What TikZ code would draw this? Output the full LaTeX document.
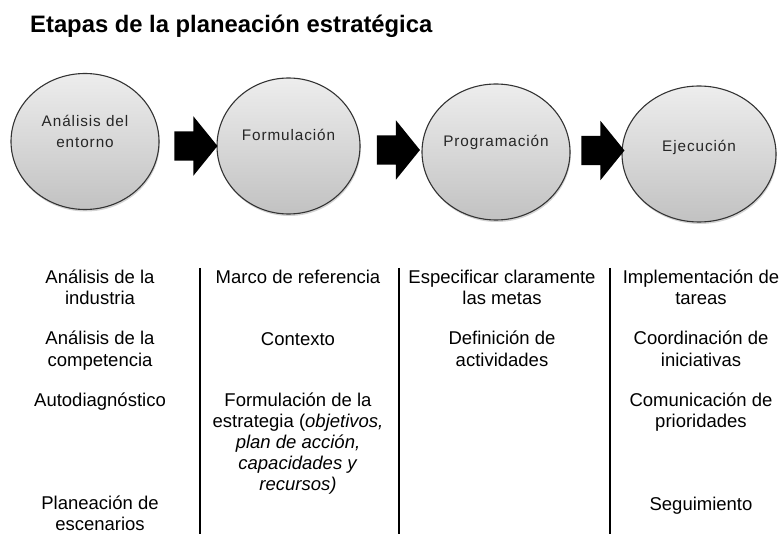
\documentclass[tikz,border=0pt]{standalone}
\usepackage{fontspec}
\setmainfont{Liberation Sans}
\newfontfamily\stagefont[LetterSpace=6]{Liberation Sans}
\usetikzlibrary{shapes.geometric, shapes.arrows, shadows}

\begin{document}
\begin{tikzpicture}[
      x=1pt, y=-1pt,
      stage/.style={ellipse, draw=black!80, line width=1.1pt, top color=gray!14, bottom color=gray!48, minimum width=148pt, minimum height=136pt, inner sep=0pt, drop shadow={opacity=0.35, shadow xshift=0.8pt, shadow yshift=-2pt}},
      stage_text/.style={font=\stagefont\fontsize{15.3pt}{21pt}\selectfont, text=black!85, align=center, inner sep=0pt, anchor=base},
      big_arrow/.style={single arrow, fill=black, inner xsep=0pt, inner ysep=14.5pt, minimum height=43pt, minimum width=59pt, single arrow head extend=15pt, single arrow tip angle=102},
      item/.style={font=\fontsize{18.5pt}{21pt}\selectfont, align=center, inner sep=0pt, anchor=base},
      sep_line/.style={draw, line width=2pt}
  ]
  \useasboundingbox (0,0) rectangle (781,534);

  \node[anchor=base west, inner sep=0pt, font=\fontsize{23.8pt}{28pt}\bfseries\selectfont] (title) at (30,33) {Etapas de la planeación estratégica};

  % etapas
  \node[stage] (entorno) at (85,141.5) {};
  \node[stage, minimum width=143pt] (formulacion) at (288.5,146) {};
  \node[stage] (programacion) at (496,152) {};
  \node[stage, minimum width=154pt] (ejecucion) at (699,154) {};

  % (base = last line)
  \node[stage_text] (t_entorno) at ([yshift=-6.5pt]entorno.center) {Análisis del\\entorno};
  \node[stage_text] (t_formulacion) at ([yshift=5pt]formulacion.center) {Formulación};
  \node[stage_text] (t_programacion) at ([yshift=5pt]programacion.center) {Programación};
  \node[stage_text] (t_ejecucion) at ([yshift=2pt]ejecucion.center) {Ejecución};

  \node[big_arrow] (arr1) at (190,146) {};
  \node[big_arrow] (arr2) at (392.5,150) {};
  \node[big_arrow] (arr3) at (597,150.5) {};

  % columnas (base = last line)
  \node[item] (ent1) at (100,305) {Análisis de la\\industria};
  \node[item] (ent2) at (100,366) {Análisis de la\\competencia};
  \node[item] (ent3) at (100,406) {Autodiagnóstico};
  \node[item] (ent4) at (100,530) {Planeación de\\escenarios};

  \node[item] (for1) at (298,284) {Marco de referencia};
  \node[item] (for2) at (298,345) {Contexto};
  \node[item] (for3) at (298,490) {Formulación de la\\estrategia (\textit{objetivos,}\\\textit{plan de acción,}\\\textit{capacidades y}\\\textit{recursos)}};

  \node[item] (pro1) at (502,305) {Especificar claramente\\las metas};
  \node[item] (pro2) at (502,366) {Definición de\\actividades};

  \node[item] (eje1) at (701,305) {Implementación de\\tareas};
  \node[item] (eje2) at (701,366) {Coordinación de\\iniciativas};
  \node[item] (eje3) at (701,427) {Comunicación de\\prioridades};
  \node[item] (eje4) at (701,510) {Seguimiento};

  \draw[sep_line] (200,268) -- (200,534);
  \draw[sep_line] (399,268) -- (399,534);
  \draw[sep_line] (610,268) -- (610,534);

\end{tikzpicture}
\end{document}
